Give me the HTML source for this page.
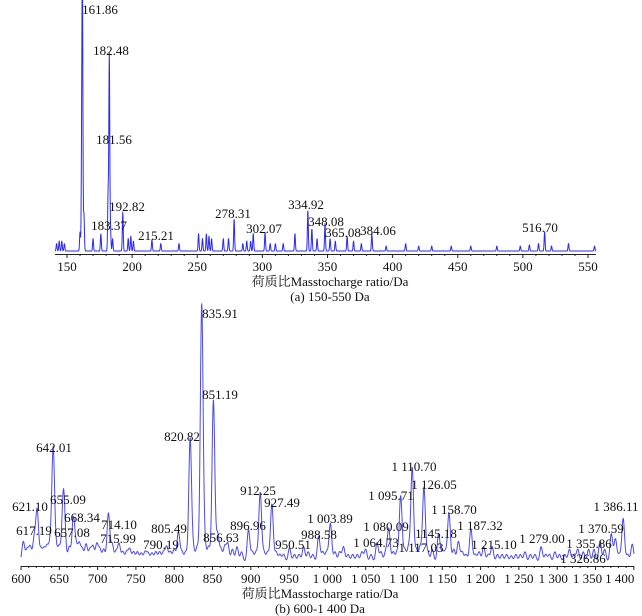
<!DOCTYPE html>
<html><head><meta charset="utf-8">
<style>
html,body{margin:0;padding:0;background:#fff;}
svg{display:block;font-family:"Liberation Serif","Noto Serif CJK SC",serif;}
text{font-size:13px;fill:#111;}
</style></head>
<body>
<svg id="chart" width="642" height="616" viewBox="0 0 642 616" xmlns="http://www.w3.org/2000/svg">
<g id="pa"></g>
<g id="pb"></g>
</svg>
<script>
// ---- Panel (a) data ----
const aTicks = [150,200,250,300,350,400,450,500,550];
const aPeakMz = [161.86,161.3,160,163,170,176,181.56,182.48,183.37,185,192.82,197,199,201,215.21,222,236,251,254,257,259,261,270,274,278.31,285,288,291,293,302.07,306,310,316,325,334.92,338,342,348.08,352,356,365.08,370,376,384.06,395,410,420,430,445,460,480,498,505,512,516.70,522,535,555,142,144,146,148];
const aPeakInt = [100,41,7.6,15,5,7,23,79,9,5,15.7,5,6,4,4.5,3,3,7,5,7,6,5,5,5,13,3,4,4,7,7.6,3,3,3,7,16.5,9,5,11,5,4,6,4,3,7,2,3,2,2,2,2,2,2,2.5,3,8,2,3,2,3,4,4,3];
const aLabels = ["161.86","182.48","181.56","192.82","183.37","215.21","278.31","302.07","334.92","348.08","365.08","384.06","516.70"];
const aLabelX = [100,111,114,127,109,156,233,264,306,326,343,378,540];
const aLabelY = [14,55,144,211,230,240,218,233,209,226,237,235,232];

// ---- Panel (b) data ----
const bTicks = [600,650,700,750,800,850,900,950,1000,1050,1100,1150,1200,1250,1300,1350,1400];
const bPeakMz = [603,608,612,617.19,621.10,626,630,634,638,642.01,646,650,655.09,657.08,663,668.34,672,676,680,685,690,694,699,703,708,714.10,719,724,728,733,738,742,747,752,757,762,766,771,776,781,786,790.19,795,800,805.49,810,815,820.82,825,830,835.91,840,845,851.19,856.63,861,866,870,876,882,888,896.96,902,907,912.25,917,922,927.49,933,938,943,950.51,957,963,969,975,981,988.58,994,999,1003.89,1010,1016,1021,1027,1033,1039,1045,1050,1057,1064.73,1070,1076,1080.09,1086,1091,1095.71,1101,1106,1110.70,1116,1121,1126.05,1131,1137,1145.18,1150,1154,1158.70,1165,1171,1176,1181,1187.32,1193,1198,1204,1210,1215.10,1222,1228,1234,1240,1246,1252,1258,1265,1271,1279.00,1285,1290,1297,1303,1310,1316,1322,1326.86,1334,1341,1348,1355.86,1362,1370.59,1376,1381,1386.11,1392,1398];
const bPeakInt = [8,5,6,9,20,5,5,6,7,44,5,6,23,9,6,17,6,7,5,7,5,6,7,5,5,19,7,4,7,4,4,5,4,4,3.5,4,3.5,3.5,4,4,4,6,4,5,11.7,4,4,48,5,6,100,7,6,63,11,5,6,7,5,6,4,12.5,4,4,27,4,4,22.6,4,3,3,5.5,3,3,6,4,3,10,4,4,15,4,4,6,3,3,3,4,5,3,7.5,4,4,13,4,4,25.7,5,6,36.6,5,6,29,4,5,11,4,4,19,5,8,4,3,13,3,4,6,3,6,3,3,3,2.5,3,3,4,3,3,6,3,3,4,3,3,5,3,5,4,5,5,8,5,11,9,3,17,3,7];
const bLabels = ["642.01","621.10","655.09","617.19","657.08","668.34","714.10","715.99","805.49","790.19","820.82","835.91","851.19","856.63","896.96","912.25","927.49","950.51","988.58","1 003.89","1 080.09","1 064.73","1 095.71","1 110.70","1 126.05","1145.18","1 117.03","1 158.70","1 187.32","1 215.10","1 279.00","1 355.86","1 326.86","1 370.59","1 386.11"];
const bLabelX = [54,30,68,34,72,82,119,118,169,161,182,220,220,221,248,258,282,293,319,330,386,376,391,414,434,436,421,454,480,494,542,589,583,601,616];
const bLabelY = [452,511,504,535,537,522,529,543,533,549,441,318,399,542,530,495,507,549,539,523,531,547,500,471,489,538,552,514,530,549,543,548,563,533,511];

const NS = "http://www.w3.org/2000/svg";
function mk(tag, attrs, parent){const e=document.createElementNS(NS,tag);for(const k in attrs)e.setAttribute(k,attrs[k]);parent.appendChild(e);return e;}

function drawPanel(g, cfg){
  const xs = m => cfg.x0 + (m - cfg.m0) * cfg.k;
  const ys = v => cfg.base - v * cfg.yk;
  let d = "";
  for (let px = cfg.left; px <= cfg.right; px += 0.25){
    const m = cfg.m0 + (px - cfg.x0) / cfg.k;
    let v = cfg.floor;
    for (let i = 0; i < cfg.mz.length; i++){
      const dm = (m - cfg.mz[i]) / cfg.sig;
      if (Math.abs(dm) < 6) v += cfg.it[i] * Math.exp(-0.5 * dm * dm);
    }
    d += (d ? "L" : "M") + px.toFixed(2) + "," + ys(v).toFixed(2);
  }
  const p = mk("path", {d:d, fill:"none", stroke:cfg.color, "stroke-width":1, "stroke-linejoin":"round"}, g);
  
  
  const ax = mk("line", {x1:cfg.left, x2:cfg.right, y1:cfg.base+0.5, y2:cfg.base+0.5, stroke:"#222", "stroke-width":1}, g);
  
  
  for (let m = cfg.ticks[0] - 50; m <= cfg.ticks[cfg.ticks.length-1] + 50; m += 10){
    const x = xs(m);
    if (x < cfg.left || x > cfg.right) continue;
    const major = cfg.ticks.indexOf(m) >= 0;
    mk("line", {x1:x, x2:x, y1:cfg.base, y2:cfg.base + (major ? 4 : 2), stroke:"#222", "stroke-width":1}, g);
  }
  cfg.ticks.forEach((t, i) => {
    const dx = cfg.tickDx ? cfg.tickDx[i] : 0;
    const tx = mk("text", {x:xs(t) + dx, y:cfg.base + 17, "text-anchor":"middle"}, g);
    tx.textContent = t >= 1000 ? (Math.floor(t/1000) + " " + String(t % 1000).padStart(3,"0")) : String(t);
    
    
  });
  cfg.labels.forEach((s, i) => {
    const tx = mk("text", {x:cfg.lx[i], y:cfg.ly[i], "text-anchor":"middle"}, g);
    tx.textContent = s;
    
    
  });
  const tt = mk("text", {x:cfg.titleX, y:cfg.titleY, "text-anchor":"middle"}, g);
  tt.textContent = "荷质比Masstocharge ratio/Da";
  
  
  const st = mk("text", {x:cfg.titleX, y:cfg.titleY + 15, "text-anchor":"middle"}, g);
  st.textContent = cfg.sub;
  
  
}

drawPanel(document.getElementById("pa"), {
  m0:150, x0:67, k:1.3025, base:254, yk:2.49, left:55, right:596, sig:0.35, floor:1.2,
  mz:aPeakMz, it:aPeakInt, ticks:aTicks, labels:aLabels, lx:aLabelX, ly:aLabelY,
  color:"#2b2bef", titleX:330, titleY:286, sub:"(a) 150-550 Da"
});
drawPanel(document.getElementById("pb"), {
  m0:600, x0:21, k:0.766, base:566, yk:2.57, left:21, right:634, sig:1.8, floor:1.5,
  mz:bPeakMz, it:bPeakInt, ticks:bTicks, labels:bLabels, lx:bLabelX, ly:bLabelY,
  tickDx:[0,0,0,0,0,0,0,0,0,0,0,0,0,0,-4,-8,-14],
  color:"#4b4be6", titleX:320, titleY:598, sub:"(b) 600-1 400 Da"
});
</script>
</body></html>
